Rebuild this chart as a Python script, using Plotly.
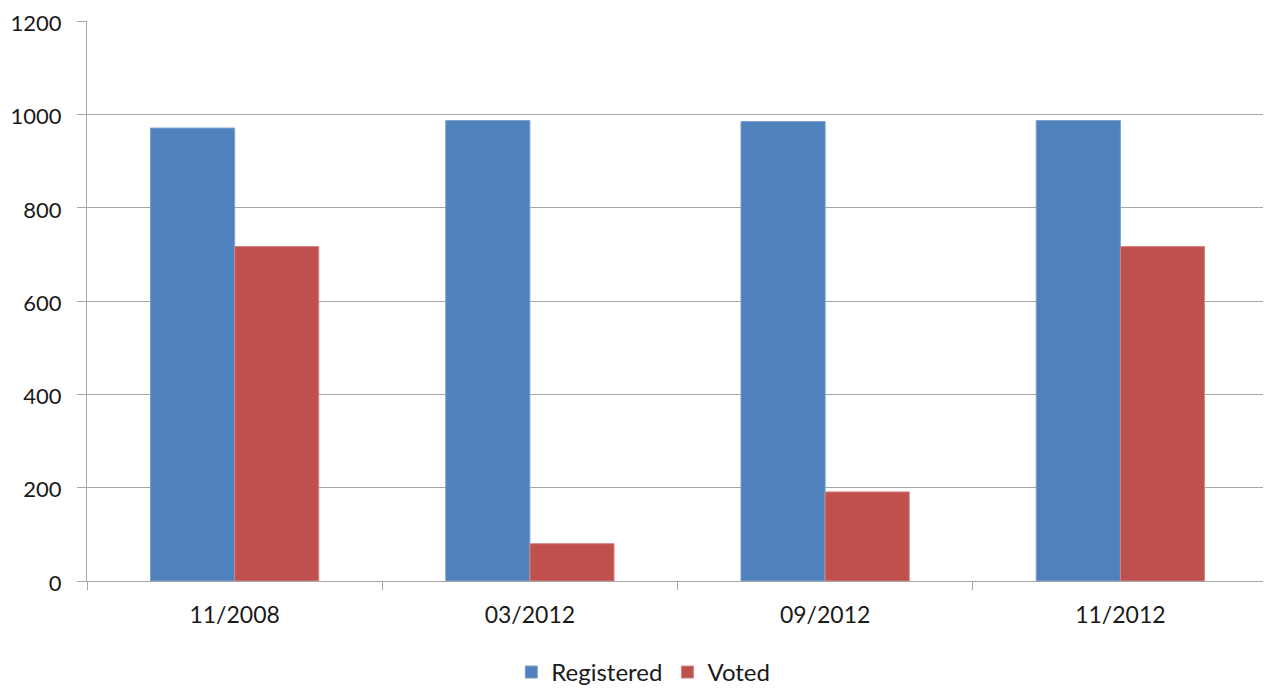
import plotly.graph_objects as go

categories = ["11/2008", "03/2012", "09/2012", "11/2012"]
registered = [971, 987, 985, 987]
voted = [717, 80, 191, 717]
y_ticks = [0, 200, 400, 600, 800, 1000, 1200]

font_family = "Lato, 'Open Sans', sans-serif"
text_color = "#1A1A1A"
grid_color = "#A6A6A6"

fig = go.Figure()
fig.add_trace(go.Bar(
    name="Registered", x=categories, y=registered,
    marker=dict(color="#4F81BD", line=dict(color="#7BA0CF", width=1)),
))
fig.add_trace(go.Bar(
    name="Voted", x=categories, y=voted,
    marker=dict(color="#C0504D", line=dict(color="#D58684", width=1)),
))

fig.update_layout(
    width=1263, height=689,
    barmode="group",
    bargap=0.43, bargroupgap=0,
    plot_bgcolor="white", paper_bgcolor="white",
    margin=dict(l=79, r=3, t=13, b=116),
    font=dict(family=font_family, size=23, color=text_color),
    showlegend=True,
    legend=dict(
        orientation="h", xref="container", yref="container",
        x=0.503, xanchor="center", y=0.003, yanchor="bottom",
        font=dict(size=24, color=text_color),
        itemwidth=30, traceorder="normal",
    ),
    xaxis=dict(
        showline=True, linecolor=grid_color, linewidth=1,
        ticks="outside", tickson="boundaries", ticklen=8, tickcolor=grid_color,
        showgrid=False, ticklabelstandoff=13, automargin=False,
    ),
    yaxis=dict(
        range=[0, 1200.5], tickvals=y_ticks,
        showline=True, linecolor=grid_color, linewidth=1,
        ticks="outside", ticklen=9, tickcolor=grid_color,
        showgrid=True, gridcolor=grid_color, gridwidth=1,
        zeroline=False, ticklabelstandoff=11, ticklabelshift=2,
        tickfont=dict(size=22),
        ticklabeloverflow="allow", automargin=False,
    ),
)

fig.write_html("out.html")
